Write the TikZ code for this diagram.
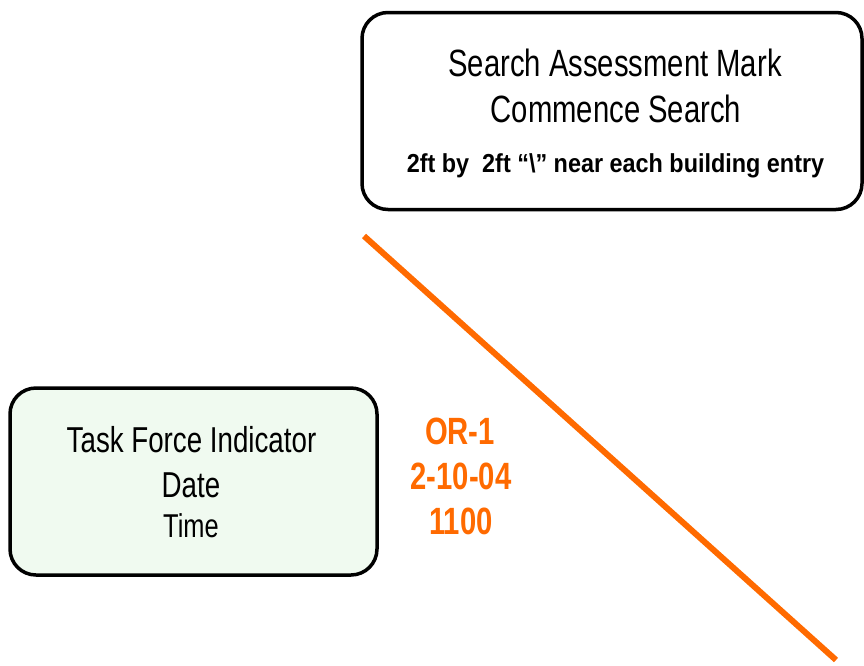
\documentclass[tikz,border=0pt]{standalone}
\usepackage{fontspec}
\setmainfont[FakeStretch=0.77]{Liberation Sans}
\newfontfamily\narrowb[FakeStretch=0.9]{Liberation Sans}
\definecolor{orng}{HTML}{FF6A00}
\definecolor{mint}{HTML}{F0FAF0}
\begin{document}
\begin{tikzpicture}[x=1pt,y=-1pt,
  box/.style={draw=black,line width=3.5pt,rounded corners=26pt,inner sep=0pt},
  txt/.style={anchor=base,inner sep=0pt},
  otxt/.style={anchor=base,inner sep=0pt,text=orng,font=\fontsize{38}{40}\selectfont\bfseries}]
\useasboundingbox (0,0) rectangle (864,665);
% top box
\node[box, fill=white, minimum width=500pt, minimum height=197pt] (sam) at (612,111) {};
\node[txt, font=\fontsize{38}{40}\selectfont] (l1) at (615,76) {Search Assessment Mark};
\node[txt, font=\fontsize{38}{40}\selectfont] (l2) at (616,122) {Commence Search};
\node[txt, font=\narrowb\fontsize{26}{28}\selectfont\bfseries] (l3) at (615.5,172) {2ft by\ \ 2ft “\textbackslash” near each building entry};
% bottom box
\node[box, fill=mint, minimum width=367pt, minimum height=187pt] (tfi) at (193.5,481.5) {};
\node[txt, font=\fontsize{36}{38}\selectfont] (b1) at (191.5,452) {Task Force Indicator};
\node[txt, font=\fontsize{36}{38}\selectfont] (b2) at (191,497) {Date};
\node[txt, font=\fontsize{33}{35}\selectfont] (b3) at (191,537) {Time};
% orange text
\node[otxt] (o1) at (460,444) {OR-1};
\node[otxt] (o2) at (461,489) {2-10-04};
\node[otxt] (o3) at (461,534) {1100};
% slash line
\coordinate (s1) at (364,236);
\coordinate (s2) at (836,660);
\draw[orng, line width=6pt] (s1) -- (s2);
\end{tikzpicture}
\end{document}
